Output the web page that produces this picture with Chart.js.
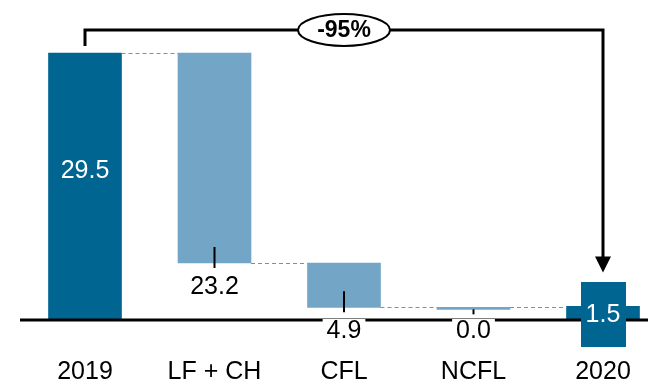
<!DOCTYPE html>
<html>
<head>
<meta charset="utf-8">
<script src="https://cdn.jsdelivr.net/npm/chart.js@4"></script>
<style>
  body { margin: 0; background: #fff; }
</style>
</head>
<body>
<canvas id="chart" width="648" height="384"></canvas>
<script>
const categories = ["2019", "LF + CH", "CFL", "NCFL", "2020"];
const changes = [29.5, -23.2, -4.9, 0.0, 1.5];
const valueLabels = ["29.5", "23.2", "4.9", "0.0", "1.5"];
const totalChange = "-95%";

const darkBlue = "#006591";
const lightBlue = "#73a5c6";
const font = "'Liberation Sans', Arial, sans-serif";

// floating bars for the waterfall
const ranges = [];
const levels = [];
let running = 0;
changes.forEach((v, i) => {
  if (i === 0 || i === changes.length - 1) {
    ranges.push([0, v]);
    running = v;
  } else {
    ranges.push([running + v, running]);
    running += v;
  }
  levels.push(running);
});
const colors = categories.map((_, i) =>
  i === 0 || i === categories.length - 1 ? darkBlue : lightBlue
);

const overlay = {
  id: "overlay",
  afterDatasetsDraw(chart) {
    const ctx = chart.ctx;
    const x = chart.scales.x;
    const y = chart.scales.y;
    const bars = chart.getDatasetMeta(0).data;
    const y0 = y.getPixelForValue(0);
    ctx.save();

    // dashed connectors
    ctx.strokeStyle = "#8c8c8c";
    ctx.lineWidth = 1;
    ctx.setLineDash([4, 3]);
    for (let i = 0; i < bars.length - 1; i++) {
      const py = Math.round(y.getPixelForValue(levels[i])) + 0.5;
      ctx.beginPath();
      ctx.moveTo(bars[i].x + bars[i].width / 2, py);
      ctx.lineTo(bars[i + 1].x - bars[i + 1].width / 2, py);
      ctx.stroke();
    }
    ctx.setLineDash([]);

    // baseline
    ctx.strokeStyle = "#000";
    ctx.lineWidth = 3;
    ctx.beginPath();
    ctx.moveTo(20, y0);
    ctx.lineTo(648, y0);
    ctx.stroke();

    ctx.font = "25px " + font;
    ctx.textAlign = "center";
    ctx.textBaseline = "middle";

    // value labels
    bars.forEach((b, i) => {
      const top = Math.min(b.y, b.base);
      const bottom = Math.max(b.y, b.base);
      if (i === 0) {
        ctx.fillStyle = "#fff";
        ctx.fillText(valueLabels[i], b.x, (top + bottom) / 2 - 15);
      } else if (i === bars.length - 1) {
        ctx.fillStyle = darkBlue;
        ctx.fillRect(b.x - 22, bottom - 38, 45, 65);
        ctx.fillStyle = "#fff";
        ctx.fillText(valueLabels[i], b.x, bottom - 5);
      } else {
        let tickTop = bottom - 16;
        const tickBottom = bottom + 5;
        let ty;
        if (bottom + 30 < y0) {
          ty = bottom + 24;
        } else {
          ty = y0 + 11;
          if (bottom - top < 5) tickTop = bottom;
        }
        ctx.strokeStyle = "#000";
        ctx.lineWidth = 2;
        ctx.beginPath();
        ctx.moveTo(b.x, tickTop);
        ctx.lineTo(b.x, tickBottom);
        ctx.stroke();
        const w = ctx.measureText(valueLabels[i]).width + 8;
        ctx.fillStyle = "#fff";
        ctx.fillRect(b.x - w / 2, ty - 12, w, 24);
        ctx.fillStyle = "#000";
        ctx.fillText(valueLabels[i], b.x, ty);
      }
    });

    // category labels
    ctx.fillStyle = "#000";
    categories.forEach((c, i) => {
      ctx.fillText(c, x.getPixelForValue(i), 372);
    });

    // total change bracket
    const first = bars[0];
    const last = bars[bars.length - 1];
    const by = 30;
    ctx.strokeStyle = "#000";
    ctx.lineWidth = 3;
    ctx.beginPath();
    ctx.moveTo(first.x, first.y - 7);
    ctx.lineTo(first.x, by);
    ctx.lineTo(last.x, by);
    ctx.lineTo(last.x, last.y - 45);
    ctx.stroke();
    ctx.fillStyle = "#000";
    ctx.beginPath();
    ctx.moveTo(last.x - 8, last.y - 50);
    ctx.lineTo(last.x + 8, last.y - 50);
    ctx.lineTo(last.x, last.y - 34);
    ctx.closePath();
    ctx.fill();

    const ex = x.getPixelForValue(2);
    ctx.fillStyle = "#fff";
    ctx.lineWidth = 2;
    ctx.beginPath();
    ctx.ellipse(ex, by, 46, 16, 0, 0, Math.PI * 2);
    ctx.fill();
    ctx.stroke();
    ctx.fillStyle = "#000";
    ctx.font = "bold 23px " + font;
    ctx.fillText(totalChange, ex, by + 1);

    ctx.restore();
  }
};

new Chart(document.getElementById("chart"), {
  type: "bar",
  data: {
    labels: categories,
    datasets: [{
      data: ranges,
      backgroundColor: colors,
      borderWidth: 0,
      borderSkipped: false,
      barThickness: 73,
      minBarLength: 2,
      clip: false
    }]
  },
  options: {
    responsive: false,
    animation: false,
    layout: { padding: { left: 85, right: 45, top: 0, bottom: 0 } },
    plugins: {
      legend: { display: false },
      tooltip: { enabled: false }
    },
    scales: {
      x: { display: false, offset: false },
      y: { display: false, min: -7.07, max: 35.36 }
    }
  },
  plugins: [overlay]
});
</script>
</body>
</html>
